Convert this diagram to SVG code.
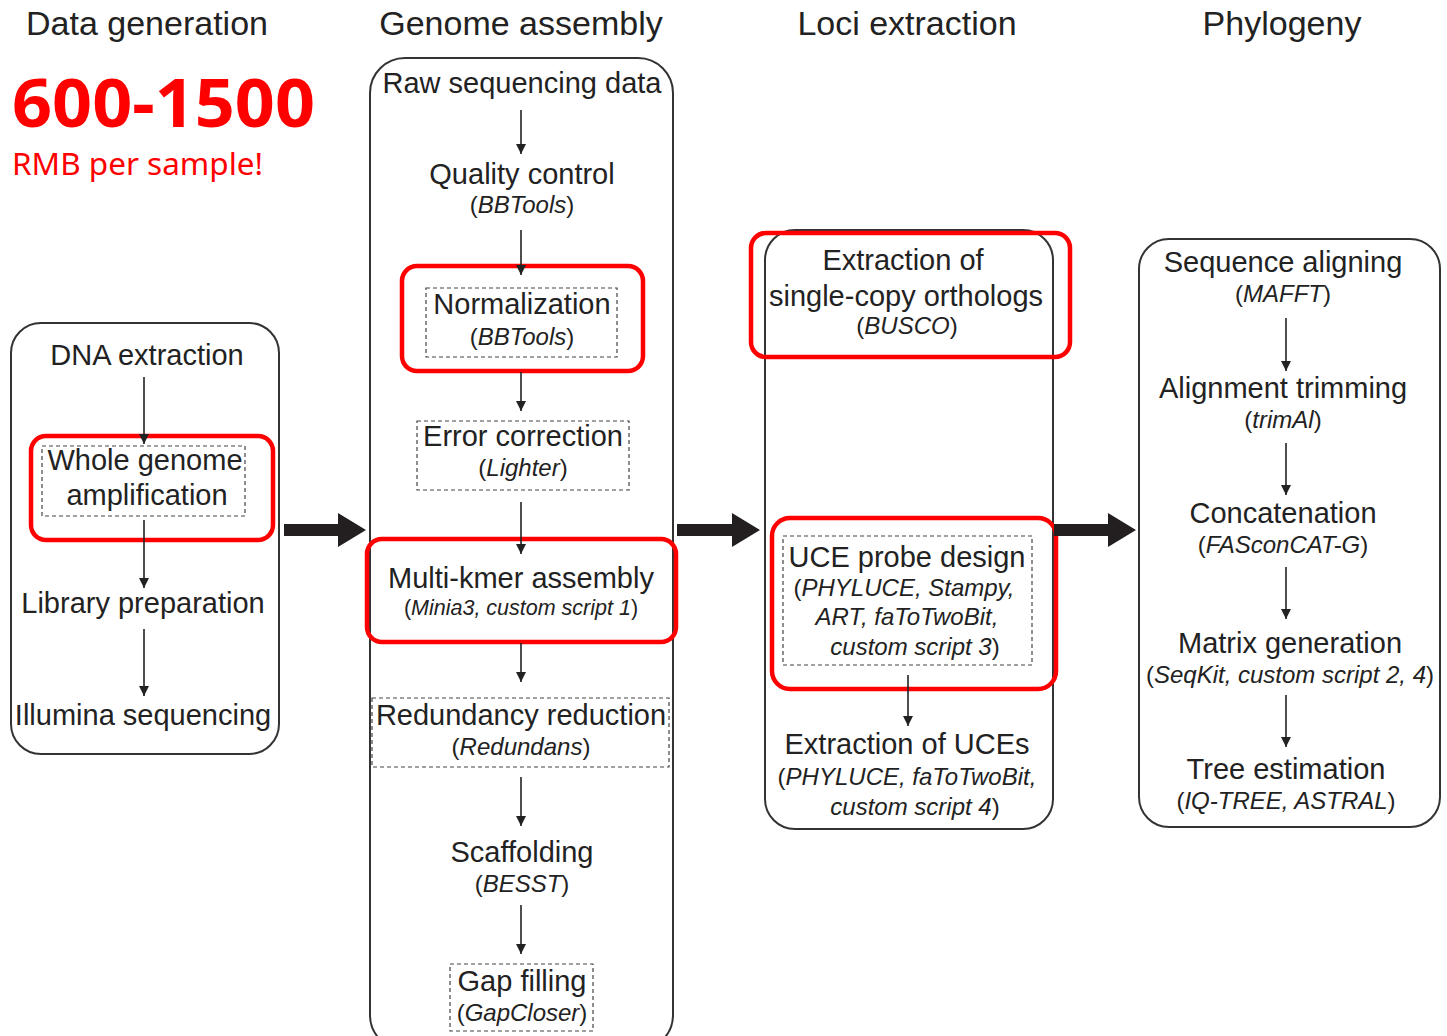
<svg xmlns="http://www.w3.org/2000/svg" width="1447" height="1036" viewBox="0 0 1447 1036">
<defs>
<marker id="ah" viewBox="0 0 10 10" refX="10" refY="5" markerWidth="10" markerHeight="10" markerUnits="userSpaceOnUse" orient="auto">
<path d="M0,0 L10,5 L0,10 z" fill="#222"/>
</marker>
<style>
text{font-family:"Liberation Sans",Arial,sans-serif;fill:#222;text-anchor:middle}
.h{font-size:34px}
.t{font-size:29px}
.s{font-size:24px}
.xs{font-size:21.5px}
.i{font-style:italic}
.panel{fill:none;stroke:#333;stroke-width:2}
.dash{fill:none;stroke:#444;stroke-width:1.2;stroke-dasharray:4 3}
.red{fill:none;stroke:#f00;stroke-width:4.5}
.ln{stroke:#222;stroke-width:1.6;fill:none;marker-end:url(#ah)}
.big{fill:#231f20}
</style>
</defs>
<rect width="1447" height="1036" fill="#fff"/>

<g id="headers">
<text class="h" x="147" y="35">Data generation</text>
<text class="h" x="521" y="35">Genome assembly</text>
<text class="h" x="907" y="35">Loci extraction</text>
<text class="h" x="1282" y="35">Phylogeny</text>
</g>

<g id="price">
<text x="12" y="127" style="font-family:'Noto Sans','Liberation Sans',sans-serif;font-weight:bold;font-size:67px;fill:#f00;text-anchor:start" textLength="303" lengthAdjust="spacingAndGlyphs">600-1500</text>
<text x="12" y="175" style="font-family:'Noto Sans','Liberation Sans',sans-serif;font-size:30px;fill:#f00;text-anchor:start" textLength="251" lengthAdjust="spacingAndGlyphs">RMB per sample!</text>
</g>

<g id="panel-data-generation">
<rect class="panel" x="11" y="323" width="268" height="431" rx="30"/>
<g id="n-dna"><text class="t" x="147" y="365">DNA extraction</text></g>
<g id="n-wga">
<rect class="dash" x="42" y="446" width="203" height="70"/>
<text class="t" x="145" y="470">Whole genome</text>
<text class="t" x="147" y="505">amplification</text>
<rect class="red" x="31" y="436" width="242" height="104" rx="15"/>
</g>
<g id="n-lib"><text class="t" x="143" y="613">Library preparation</text></g>
<g id="n-ill"><text class="t" x="143" y="725">Illumina sequencing</text></g>
</g>

<g id="panel-genome-assembly">
<rect class="panel" x="370" y="58" width="303" height="992" rx="35"/>
<g id="n-raw"><text class="t" x="522" y="93">Raw sequencing data</text></g>
<g id="n-qc"><text class="t" x="522" y="184">Quality control</text><text class="s" x="522" y="213">(<tspan class="i">BBTools</tspan>)</text></g>
<g id="n-norm">
<rect class="dash" x="426" y="288" width="191" height="69"/>
<text class="t" x="522" y="314">Normalization</text><text class="s" x="522" y="345">(<tspan class="i">BBTools</tspan>)</text>
<rect class="red" x="402" y="266" width="241" height="105" rx="15"/>
</g>
<g id="n-err">
<rect class="dash" x="417" y="421" width="212" height="69"/>
<text class="t" x="523" y="446">Error correction</text><text class="s" x="523" y="476">(<tspan class="i">Lighter</tspan>)</text>
</g>
<g id="n-mk">
<text class="t" x="521" y="588">Multi-kmer assembly</text><text class="xs" x="521" y="615">(<tspan class="i">Minia3, custom script 1</tspan>)</text>
<rect class="red" x="367" y="539" width="309" height="103" rx="15"/>
</g>
<g id="n-red">
<rect class="dash" x="372" y="698" width="297" height="69"/>
<text class="t" x="521" y="725">Redundancy reduction</text><text class="s" x="521" y="755">(<tspan class="i">Redundans</tspan>)</text>
</g>
<g id="n-scaf"><text class="t" x="522" y="862">Scaffolding</text><text class="s" x="522" y="892">(<tspan class="i">BESST</tspan>)</text></g>
<g id="n-gap">
<rect class="dash" x="450" y="964" width="143" height="67"/>
<text class="t" x="522" y="991">Gap filling</text><text class="s" x="522" y="1021">(<tspan class="i">GapCloser</tspan>)</text>
</g>
</g>

<g id="panel-loci-extraction">
<rect class="panel" x="765" y="230" width="288" height="599" rx="30"/>
<g id="n-busco">
<text class="t" x="903" y="270">Extraction of</text>
<text class="t" x="906" y="306">single-copy orthologs</text>
<text class="s" x="907" y="334">(<tspan class="i">BUSCO</tspan>)</text>
<rect class="red" x="751" y="233" width="319" height="124" rx="15"/>
</g>
<g id="n-uce">
<rect class="dash" x="783" y="536" width="249" height="129"/>
<text class="t" x="907" y="567">UCE probe design</text>
<text class="s" x="904" y="596">(<tspan class="i">PHYLUCE, Stampy,</tspan></text>
<text class="s i" x="907" y="625">ART,  faToTwoBit,</text>
<text class="s" x="915" y="655"><tspan class="i">custom script 3</tspan>)</text>
<rect class="red" x="772" y="518" width="284" height="171" rx="18"/>
</g>
<g id="n-uces">
<text class="t" x="907" y="754">Extraction of UCEs</text>
<text class="s" x="907" y="785">(<tspan class="i">PHYLUCE, faToTwoBit,</tspan></text>
<text class="s" x="915" y="815"><tspan class="i">custom script 4</tspan>)</text>
</g>
</g>

<g id="panel-phylogeny">
<rect class="panel" x="1139" y="239" width="301" height="588" rx="30"/>
<g id="n-align"><text class="t" x="1283" y="272">Sequence aligning</text><text class="s" x="1283" y="302">(<tspan class="i">MAFFT</tspan>)</text></g>
<g id="n-trim"><text class="t" x="1283" y="398">Alignment trimming</text><text class="s" x="1283" y="428">(<tspan class="i">trimAl</tspan>)</text></g>
<g id="n-cat"><text class="t" x="1283" y="523">Concatenation</text><text class="s" x="1283" y="553">(<tspan class="i">FASconCAT-G</tspan>)</text></g>
<g id="n-mat"><text class="t" x="1290" y="653">Matrix generation</text><text class="s" x="1290" y="683">(<tspan class="i">SeqKit, custom script 2, 4</tspan>)</text></g>
<g id="n-tree"><text class="t" x="1286" y="779">Tree estimation</text><text class="s" x="1286" y="809">(<tspan class="i">IQ-TREE, ASTRAL</tspan>)</text></g>
</g>

<g id="connectors">
<line class="ln" x1="144" y1="377" x2="144" y2="444"/>
<line class="ln" x1="144" y1="520" x2="144" y2="588"/>
<line class="ln" x1="144" y1="629" x2="144" y2="696"/>

<line class="ln" x1="521" y1="110" x2="521" y2="154"/>
<line class="ln" x1="521" y1="230" x2="521" y2="275"/>
<line class="ln" x1="521" y1="372" x2="521" y2="411"/>
<line class="ln" x1="521" y1="502" x2="521" y2="554"/>
<line class="ln" x1="521" y1="643" x2="521" y2="682"/>
<line class="ln" x1="521" y1="777" x2="521" y2="826"/>
<line class="ln" x1="521" y1="905" x2="521" y2="954"/>

<line class="ln" x1="908" y1="675" x2="908" y2="726"/>

<line class="ln" x1="1286" y1="318" x2="1286" y2="371"/>
<line class="ln" x1="1286" y1="443" x2="1286" y2="495"/>
<line class="ln" x1="1286" y1="567" x2="1286" y2="619"/>
<line class="ln" x1="1286" y1="695" x2="1286" y2="747"/>

<path class="big" d="M284,524 H338 V513 L366,530 L338,547 V536 H284 Z"/>
<path class="big" d="M677,524 H732 V513 L760,530 L732,547 V536 H677 Z"/>
<path class="big" d="M1054,524 H1108 V513 L1136,530 L1108,547 V536 H1054 Z"/>
</g>
</svg>
